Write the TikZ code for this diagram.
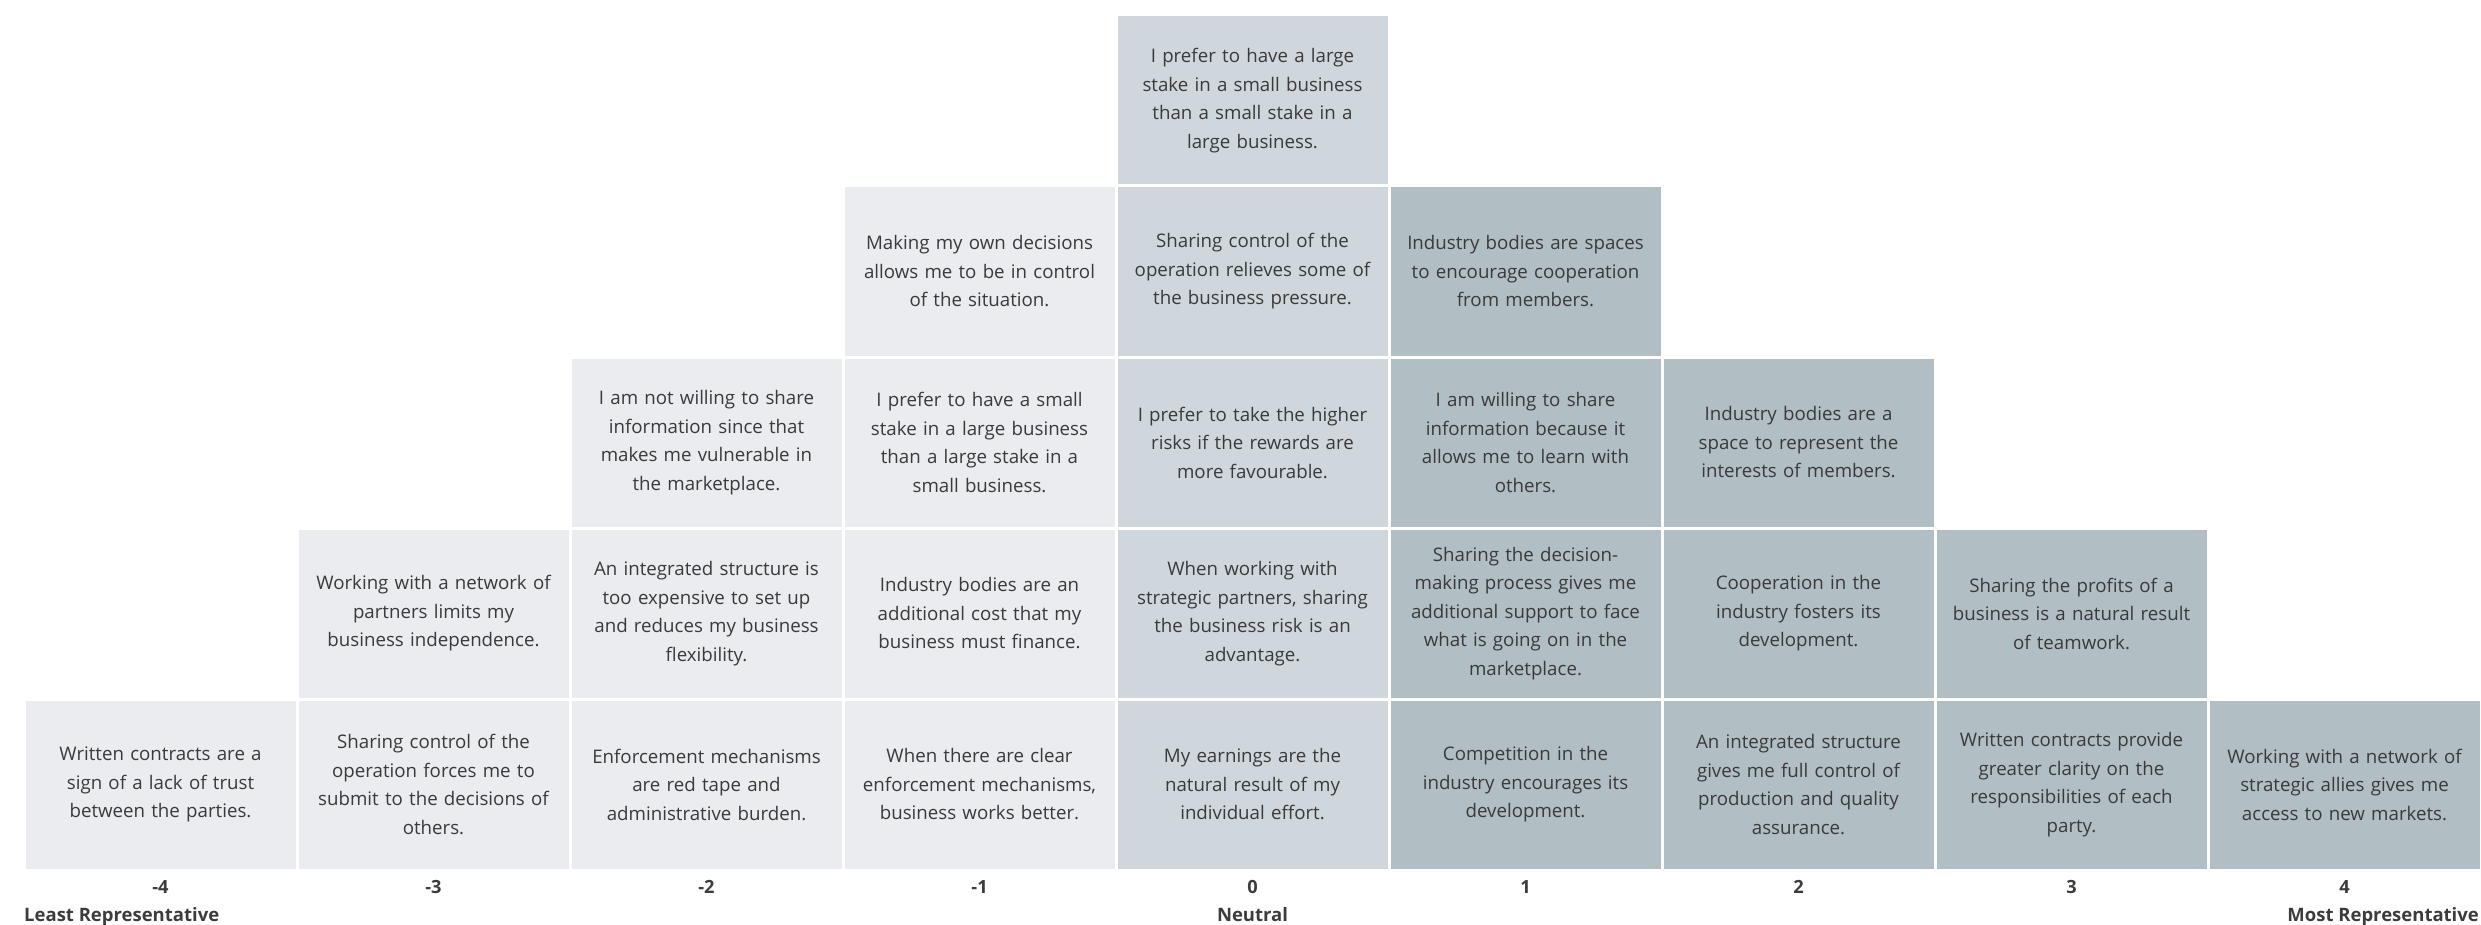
\documentclass[tikz,border=0pt]{standalone}
\usepackage{fontspec}
\setmainfont{Open Sans}
\definecolor{cLight}{HTML}{EBECEF}
\definecolor{cMid}{HTML}{CFD7DC}
\definecolor{cDark}{HTML}{B1BEC4}
\definecolor{txt}{HTML}{3A3A3A}
\definecolor{lbl}{HTML}{3C3C3C}
\tikzset{
  cellbox/.style={rectangle, inner sep=0pt, minimum width=270pt, minimum height=168pt,
    text width=266pt, align=center, text=txt,
    font=\fontsize{18.7}{28.5}\selectfont},
  negcell/.style={cellbox, fill=cLight},
  neucell/.style={cellbox, fill=cMid},
  poscell/.style={cellbox, fill=cDark},
  numlbl/.style={anchor=base, text=lbl, font=\fontsize{18.2}{22}\selectfont\bfseries},
  endlbl/.style={text=lbl, font=\fontsize{18.5}{22}\selectfont\bfseries}
}
\begin{document}
\begin{tikzpicture}[x=1pt, y=-1pt]
\useasboundingbox (0,0) rectangle (2481,925);
% column -4
\node[negcell] (m4r4) at (160.5,784.5) {Written contracts are a\\sign of a lack of trust\\between the parties.};
% column -3
\node[negcell] (m3r3) at (433.5,613.5) {Working with a network of\\partners limits my\\business independence.};
\node[negcell] (m3r4) at (433.5,784.5) {Sharing control of the\\operation forces me to\\submit to the decisions of\\others.};
% column -2
\node[negcell] (m2r2) at (706.5,442.5) {I am not willing to share\\information since that\\makes me vulnerable in\\the marketplace.};
\node[negcell] (m2r3) at (706.5,613.5) {An integrated structure is\\too expensive to set up\\and reduces my business\\flexibility.};
\node[negcell] (m2r4) at (706.5,784.5) {Enforcement mechanisms\\are red tape and\\administrative burden.};
% column -1
\node[negcell] (m1r1) at (979.5,271.5) {Making my own decisions\\allows me to be in control\\of the situation.};
\node[negcell] (m1r2) at (979.5,442.5) {I prefer to have a small\\stake in a large business\\than a large stake in a\\small business.};
\node[negcell] (m1r3) at (979.5,613.5) {Industry bodies are an\\additional cost that my\\business must finance.};
\node[negcell] (m1r4) at (979.5,784.5) {When there are clear\\enforcement mechanisms,\\business works better.};
% column 0
\node[neucell] (z0r0) at (1252.5,100.5) {I prefer to have a large\\stake in a small business\\than a small stake in a\\large business.};
\node[neucell] (z0r1) at (1252.5,271.5) {Sharing control of the\\operation relieves some of\\the business pressure.};
\node[neucell] (z0r2) at (1252.5,442.5) {I prefer to take the higher\\risks if the rewards are\\more favourable.};
\node[neucell] (z0r3) at (1252.5,613.5) {When working with\\strategic partners, sharing\\the business risk is an\\advantage.};
\node[neucell] (z0r4) at (1252.5,784.5) {My earnings are the\\natural result of my\\individual effort.};
% column 1
\node[poscell] (p1r1) at (1525.5,271.5) {Industry bodies are spaces\\to encourage cooperation\\from members.};
\node[poscell] (p1r2) at (1525.5,442.5) {I am willing to share\\information because it\\allows me to learn with\\others.};
\node[poscell] (p1r3) at (1525.5,613.5) {Sharing the decision-\\making process gives me\\additional support to face\\what is going on in the\\marketplace.};
\node[poscell] (p1r4) at (1525.5,784.5) {Competition in the\\industry encourages its\\development.};
% column 2
\node[poscell] (p2r2) at (1798.5,442.5) {Industry bodies are a\\space to represent the\\interests of members.};
\node[poscell] (p2r3) at (1798.5,613.5) {Cooperation in the\\industry fosters its\\development.};
\node[poscell] (p2r4) at (1798.5,784.5) {An integrated structure\\gives me full control of\\production and quality\\assurance.};
% column 3
\node[poscell] (p3r3) at (2071.5,613.5) {Sharing the profits of a\\business is a natural result\\of teamwork.};
\node[poscell] (p3r4) at (2071.5,784.5) {Written contracts provide\\greater clarity on the\\responsibilities of each\\party.};
% column 4
\node[poscell] (p4r4) at (2344.5,784.5) {Working with a network of\\strategic allies gives me\\access to new markets.};
% scale numbers
\node[numlbl] (nm4) at (160.5,893) {-4};
\node[numlbl] (nm3) at (433.5,893) {-3};
\node[numlbl] (nm2) at (706.5,893) {-2};
\node[numlbl] (nm1) at (979.5,893) {-1};
\node[numlbl] (n0) at (1252.5,893) {0};
\node[numlbl] (np1) at (1525.5,893) {1};
\node[numlbl] (np2) at (1798.5,893) {2};
\node[numlbl] (np3) at (2071.5,893) {3};
\node[numlbl] (np4) at (2344.5,893) {4};
% end labels
\node[endlbl, anchor=base west, inner sep=0pt] (least) at (24,921) {Least Representative};
\node[endlbl, anchor=base, inner sep=0pt] (neutral) at (1252.5,921) {Neutral};
\node[endlbl, anchor=base east, inner sep=0pt] (most) at (2479,921) {Most Representative};
\end{tikzpicture}
\end{document}
